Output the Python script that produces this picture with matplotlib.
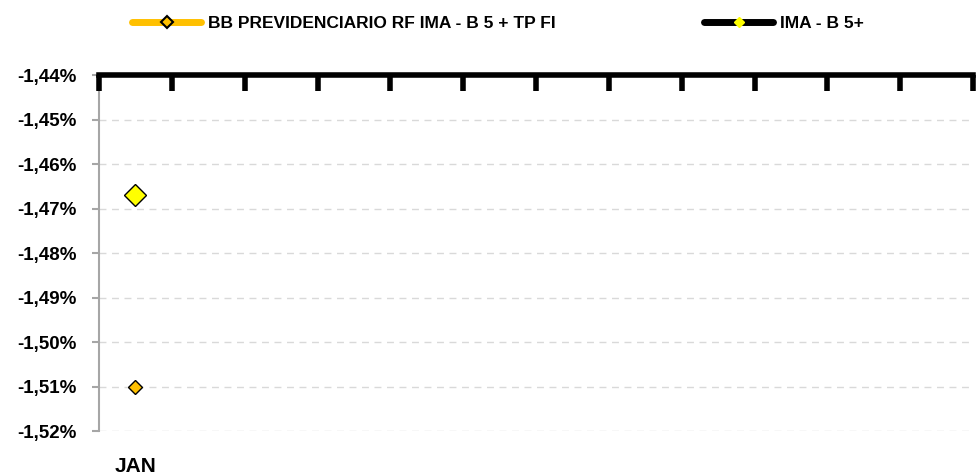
import numpy as np
import matplotlib
matplotlib.use('Agg')
import matplotlib.pyplot as plt
from matplotlib.ticker import FuncFormatter
from matplotlib.lines import Line2D

plt.rcParams['font.family'] = ['Liberation Sans', 'DejaVu Sans']
plt.rcParams['font.weight'] = 'bold'

months = ['JAN', '', '', '', '', '', '', '', '', '', '', '']
fund = [-1.510, np.nan, np.nan, np.nan, np.nan, np.nan, np.nan, np.nan, np.nan, np.nan, np.nan, np.nan]
bench = [-1.467, np.nan, np.nan, np.nan, np.nan, np.nan, np.nan, np.nan, np.nan, np.nan, np.nan, np.nan]
yticks = [-1.44, -1.45, -1.46, -1.47, -1.48, -1.49, -1.50, -1.51, -1.52]
names = ['BB PREVIDENCIARIO RF IMA - B 5 + TP FI', 'IMA - B 5+']

fig = plt.figure(figsize=(9.77, 4.75), dpi=100)
ax = fig.add_axes([0.1013, 0.0926, 0.8947, 0.7495])

x = np.arange(len(months))
ax.plot(x, fund, color='#FFC000', lw=4, marker='D', ms=7, mfc='#FFC000',
        mec='black', mew=1, solid_capstyle='round')
ax.plot(x, bench, color='black', lw=4, marker='D', ms=11, mfc='#FFFF00',
        mec='black', mew=1, solid_capstyle='round')

ax.set_xlim(-0.5, len(months) - 0.5)
ax.set_ylim(-1.52, -1.44)
ax.set_yticks(yticks)
ax.yaxis.set_major_formatter(FuncFormatter(lambda v, p: ('%.2f%%' % v).replace('.', ',')))
ax.grid(axis='y', color='#d9d9d9', ls=(0, (5, 4)), lw=1)
ax.set_axisbelow(True)

# category labels at the bottom, boundary ticks on the top axis
ax.set_xticks(x)
ax.set_xticklabels(months, fontsize=15, fontweight='bold')
ax.tick_params(axis='x', which='major', length=0, pad=19)
for b in np.arange(-0.5, len(months)):
    ax.plot([b, b], [-1.44, -1.4436], color='black', lw=4, clip_on=False,
            solid_capstyle='butt', zorder=5)

ax.tick_params(axis='y', labelsize=13.5, length=5, color='#a6a6a6', width=1.5, pad=11)
for lab in ax.get_yticklabels():
    lab.set_fontweight('bold')

ax.spines['right'].set_visible(False)
ax.spines['bottom'].set_visible(False)
ax.spines['left'].set_color('#a6a6a6')
ax.spines['left'].set_linewidth(1.5)
ax.spines['top'].set_color('black')
ax.spines['top'].set_linewidth(4)

handles = [
    Line2D([], [], color='#FFC000', lw=5, marker='D', ms=6, mfc='#FFC000',
           mec='black', mew=1.5, solid_capstyle='round'),
    Line2D([], [], color='black', lw=5, marker='D', ms=5, mfc='#FFFF00',
           mec='#FFFF00', mew=1, solid_capstyle='round'),
]
for h, name, x0 in zip(handles, names, [132, 704]):
    leg = fig.legend([h], [name], loc='center left',
                     bbox_to_anchor=(x0 / 977, 1 - 23 / 475), frameon=False,
                     fontsize=12.5, handlelength=4.0, handletextpad=0.35,
                     borderpad=0, borderaxespad=0)
    for t in leg.get_texts():
        t.set_fontweight('bold')

fig.savefig('out.png', dpi=100)
